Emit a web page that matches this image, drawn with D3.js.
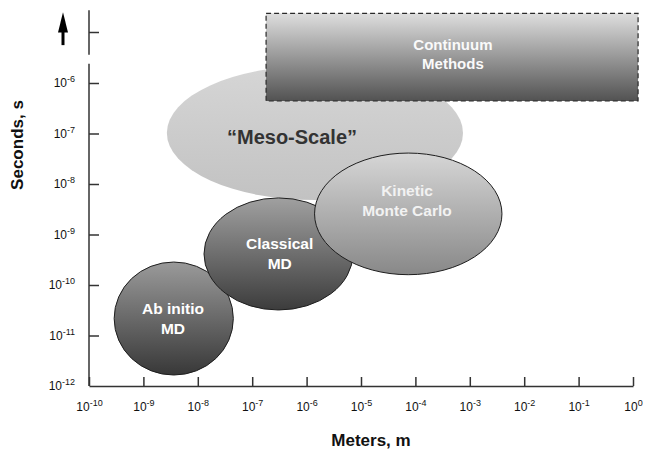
<!DOCTYPE html>
<html>
<head>
<meta charset="utf-8">
<script src="https://cdn.jsdelivr.net/npm/d3@7"></script>
<style>
  body { margin: 0; background: #fff; }
  text { font-family: "Liberation Sans", Arial, Helvetica, sans-serif; }
</style>
</head>
<body>
<svg id="chart" width="645" height="452"></svg>
<script>
// Decade exponents shown on each axis
const lengthExponents = [-10, -9, -8, -7, -6, -5, -4, -3, -2, -1, 0];
const timeExponents = [-12, -11, -10, -9, -8, -7, -6];

// Simulation methods and the length (m) / time (s) windows they cover
const methodIds = ["meso", "abinitio", "classical", "kmc"];
const methodLines = [["\u201CMeso-Scale\u201D"], ["Ab initio", "MD"], ["Classical", "MD"], ["Kinetic", "Monte Carlo"]];
const lengthMin = [2.7e-9, 2.9e-10, 1.3e-8, 1.4e-6];
const lengthMax = [7.5e-4, 4.5e-8, 7.1e-6, 3.9e-3];
const timeMin = [4.8e-9, 1.65e-12, 3.2e-11, 1.6e-10];
const timeMax = [2.2e-6, 2.85e-10, 5.3e-9, 4.1e-8];
const labelLength = [5.4e-7, 3.5e-9, 3.2e-7, 7e-5];
const labelTime = [8.5e-8, 2.2e-11, 4.2e-10, 4.6e-9];

// Continuum methods: open-ended region beyond the top of the time axis
const continuumLines = ["Continuum", "Methods"];
const continuumLength = [1.8e-7, 1.24];
const continuumTime = [4.4e-7, 2.4e-5];
const continuumLabel = [4.9e-4, 3.7e-6];

const svg = d3.select("#chart");
const defs = svg.append("defs");

const x = d3.scaleLog().domain([1e-10, 1]).range([89, 633]);
const y = d3.scaleLog().domain([1e-12, 1e-6]).range([386, 83]);

// Vertical shading for each region
const shades = {
  meso: ["#d6d6d6", "#c2c2c2"],
  abinitio: ["#9a9a9a", "#383838"],
  classical: ["#a0a0a0", "#3c3c3c"],
  kmc: ["#d6d6d6", "#888888"],
  continuum: ["#dedede", "#525252"]
};
Object.entries(shades).forEach(([id, [top, bottom]]) => {
  const g = defs.append("linearGradient").attr("id", "grad-" + id)
    .attr("x1", 0).attr("y1", 0).attr("x2", 0).attr("y2", 1);
  g.append("stop").attr("offset", "0%").attr("stop-color", top);
  g.append("stop").attr("offset", "100%").attr("stop-color", bottom);
});

const textColor = { meso: "#333", abinitio: "#fff", classical: "#fff", kmc: "#f2f2f2" };
const fontSize = { meso: 20, abinitio: 15.5, classical: 15.5, kmc: 15.5 };

function drawEllipse(i) {
  const id = methodIds[i];
  const x0 = x(lengthMin[i]), x1 = x(lengthMax[i]);
  const y0 = y(timeMax[i]), y1 = y(timeMin[i]);
  svg.append("ellipse")
    .attr("cx", (x0 + x1) / 2).attr("cy", (y0 + y1) / 2)
    .attr("rx", (x1 - x0) / 2).attr("ry", (y1 - y0) / 2)
    .attr("fill", `url(#grad-${id})`)
    .attr("stroke", id === "meso" ? "none" : "#1e1e1e")
    .attr("stroke-width", 1);
}

function drawLabel(lines, cx, cy, size, color, lineH) {
  const t = svg.append("text")
    .attr("text-anchor", "middle")
    .attr("font-weight", "bold")
    .attr("font-size", size)
    .attr("fill", color);
  lines.forEach((ln, k) => {
    t.append("tspan")
      .attr("x", cx)
      .attr("y", cy + (k - (lines.length - 1) / 2) * lineH)
      .attr("dy", "0.35em")
      .text(ln);
  });
}

// Meso-scale region sits beneath the continuum box
drawEllipse(0);

const bx0 = x(continuumLength[0]), bx1 = x(continuumLength[1]);
const by0 = y(continuumTime[1]), by1 = y(continuumTime[0]);
svg.append("rect")
  .attr("x", bx0).attr("y", by0)
  .attr("width", bx1 - bx0).attr("height", by1 - by0)
  .attr("fill", "url(#grad-continuum)")
  .attr("stroke", "#2a2a2a").attr("stroke-width", 1.2)
  .attr("stroke-dasharray", "5,3");
drawLabel(continuumLines, x(continuumLabel[0]), y(continuumLabel[1]), 15, "#fafafa", 19);

drawLabel(methodLines[0], x(labelLength[0]), y(labelTime[0]), fontSize.meso, textColor.meso, 20);

[1, 2, 3].forEach(i => drawEllipse(i));
[1, 2, 3].forEach(i => {
  drawLabel(methodLines[i], x(labelLength[i]), y(labelTime[i]),
    fontSize[methodIds[i]], textColor[methodIds[i]], 20);
});

// Superscripted power-of-ten tick labels
function powerLabel(sel, exps) {
  sel.each(function (d, k) {
    const t = d3.select(this).text(null);
    t.append("tspan").text("10");
    t.append("tspan").attr("font-size", 9).attr("dy", -5).text(exps[k]);
  });
}

const axisColor = "#333";

// Length axis (bottom), ticks point inward
const xAxis = svg.append("g").attr("transform", "translate(0,386)")
  .call(d3.axisBottom(x).tickValues(lengthExponents.map(e => Math.pow(10, e)))
    .tickSizeInner(-9).tickSizeOuter(0).tickPadding(16));
xAxis.select(".domain").attr("stroke", axisColor).attr("stroke-width", 1.5);
xAxis.selectAll(".tick line").attr("stroke", axisColor).attr("stroke-width", 1.5);
xAxis.selectAll(".tick text")
  .attr("font-size", 12).attr("fill", "#111")
  .call(powerLabel, lengthExponents);

// Time axis (left), ticks point inward
const yAxis = svg.append("g").attr("transform", "translate(89,0)")
  .call(d3.axisLeft(y).tickValues(timeExponents.map(e => Math.pow(10, e)))
    .tickSizeInner(-10).tickSizeOuter(0).tickPadding(14));
yAxis.select(".domain").remove();
yAxis.selectAll(".tick line").attr("stroke", axisColor).attr("stroke-width", 1.5)
  .filter(d => d === 1e-12).remove();
yAxis.selectAll(".tick text")
  .attr("font-size", 12).attr("fill", "#111")
  .call(powerLabel, timeExponents);

// Broken axis: main segment and a short continuation above the break
yAxis.append("line").attr("x1", 0).attr("x2", 0)
  .attr("y1", y(1e-12)).attr("y2", y(Math.pow(10, -5.62)))
  .attr("stroke", axisColor).attr("stroke-width", 1.5);
yAxis.append("line").attr("x1", 0).attr("x2", 0)
  .attr("y1", y(Math.pow(10, -5.44))).attr("y2", y(Math.pow(10, -4.56)))
  .attr("stroke", axisColor).attr("stroke-width", 1.5);
yAxis.append("line").attr("x1", 0).attr("x2", 10)
  .attr("y1", y(1e-5)).attr("y2", y(1e-5))
  .attr("stroke", axisColor).attr("stroke-width", 1.5);

// Upward arrow: time continues beyond the axis
const ax = 63, aTop = y(Math.pow(10, -4.6)), aBase = y(Math.pow(10, -5.0)), aEnd = y(Math.pow(10, -5.25));
svg.append("path")
  .attr("d", `M${ax},${aTop} L${ax + 5},${aBase} L${ax - 5},${aBase} Z`)
  .attr("fill", "#000");
svg.append("line").attr("x1", ax).attr("x2", ax)
  .attr("y1", aBase - 1).attr("y2", aEnd)
  .attr("stroke", "#000").attr("stroke-width", 3);

// Axis titles
svg.append("text")
  .attr("x", 371).attr("y", 446)
  .attr("text-anchor", "middle").attr("font-weight", "bold").attr("font-size", 17)
  .attr("fill", "#111")
  .text("Meters, m");
svg.append("text")
  .attr("transform", "translate(23,145) rotate(-90)")
  .attr("text-anchor", "middle").attr("font-weight", "bold").attr("font-size", 17)
  .attr("fill", "#111")
  .text("Seconds, s");
</script>
</body>
</html>
